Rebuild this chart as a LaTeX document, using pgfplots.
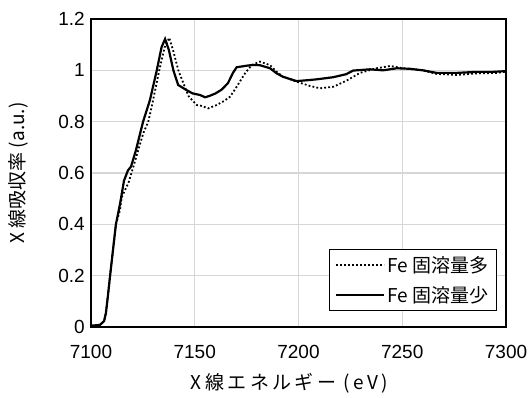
\documentclass[border=0pt]{standalone}
\usepackage{fontspec}
\setmainfont{Liberation Sans}
\newfontfamily\jp{Noto Sans CJK JP}
\newfontfamily\jpsp[LetterSpace=18]{Noto Sans CJK JP}
\usepackage{pgfplots}
\pgfplotsset{compat=1.18}
\begin{document}
\begin{tikzpicture}
\path[use as bounding box] (0,0) rectangle (529bp,398bp);
\begin{axis}[
  at={(91bp,71bp)}, anchor=south west,
  scale only axis, width=415bp, height=308bp,
  xmin=7100, xmax=7300, ymin=0, ymax=1.2,
  xtick={7100,7150,7200,7250,7300},
  xticklabels={7100,7150,7200,7250,7300},
  ytick={0,0.2,0.4,0.6,0.8,1,1.2},
  yticklabels={0,0.2,0.4,0.6,0.8,1,1.2},
  scaled ticks=false,
  major tick length=0pt,
  grid=major,
  major grid style={draw=black!16, line width=1.2bp},
  axis line style={line width=1.5bp, black},
  tick label style={font=\fontsize{19bp}{22bp}\selectfont, inner sep=0pt},
  xticklabel style={anchor=north, yshift=-18bp},
  yticklabel style={anchor=east, xshift=-6bp},
  legend style={at={(rel axis cs:0.978,0.253)}, anchor=north east,
    draw=black, line width=1bp, inner xsep=6bp, inner ysep=5bp,
    row sep=8bp,
    font=\fontsize{19bp}{22bp}\selectfont\jp},
  legend cell align=left,
  legend image code/.code={\draw[#1] (0bp,0bp) -- (48bp,0bp);},
]
\addplot[black, line width=1.8bp, dash pattern=on 1.8bp off 2.2bp] coordinates {
(7100,0.005) (7104.3,0.008) (7106.3,0.023) (7107.2,0.055) (7108.2,0.125)
(7109.2,0.2) (7110.6,0.30) (7112.0,0.40) (7114.0,0.456) (7114.8,0.505)
(7117.2,0.547) (7118.0,0.56) (7120.4,0.624) (7122.8,0.69) (7125.2,0.755)
(7127.6,0.80) (7129.3,0.86) (7132.9,1.0) (7135.5,1.09) (7137.7,1.127)
(7139.5,1.08) (7142.1,1.0) (7144.5,0.95) (7147,0.90) (7150.9,0.865)
(7153,0.862) (7156.5,0.852) (7160.6,0.865) (7164,0.88) (7167.0,0.897)
(7170.2,0.936) (7174.2,0.988) (7177.4,1.02) (7181.4,1.034) (7186.3,1.02)
(7189.5,0.994) (7192.5,0.975) (7199.1,0.956) (7205.5,0.939) (7210.4,0.93)
(7216.8,0.936) (7223.2,0.96) (7229.6,0.99) (7237.7,1.008) (7244.1,1.017)
(7250.5,1.008) (7260,1.0) (7266.6,0.986) (7276.2,0.982) (7285.9,0.988)
(7295.5,0.99) (7300,0.995)
};
\addlegendentry{Fe 固溶量多}
\addplot[black, line width=2.2bp] coordinates {
(7100,0.005) (7104.3,0.008) (7106.3,0.023) (7107.2,0.055) (7108.2,0.125)
(7109.2,0.2) (7110.6,0.30) (7112.0,0.40) (7114.0,0.48) (7115.9,0.57)
(7117.8,0.61) (7119.3,0.625) (7121.7,0.69) (7125.1,0.80) (7128.4,0.884)
(7131.7,1.0) (7134,1.09) (7135.7,1.122) (7137.5,1.08) (7139.7,1.0)
(7142,0.943) (7146,0.923) (7149,0.91) (7152.5,0.904) (7155,0.895)
(7157,0.90) (7160,0.91) (7163,0.925) (7166,0.95) (7168.4,0.99)
(7170.2,1.012) (7175,1.018) (7178,1.021) (7181.4,1.02) (7186.3,1.008)
(7189.5,0.988) (7192.5,0.975) (7199.1,0.958) (7205,0.962) (7208.8,0.965)
(7216.6,0.973) (7223,0.985) (7226.3,0.999) (7234.5,1.004) (7240.7,1.0)
(7247.3,1.008) (7253.7,1.006) (7260,1.0) (7266.6,0.99) (7276.2,0.99)
(7285.9,0.994) (7293.7,0.994) (7300,0.997)
};
\addlegendentry{Fe 固溶量少}
\end{axis}
\node[font=\fontsize{19bp}{22bp}\selectfont\jpsp] at (289.5bp,15bp) {X線エネルギー (eV)};
\node[font=\fontsize{19bp}{22bp}\selectfont\jp, rotate=90] at (18bp,225bp) {X 線吸収率 (a.u.)};
\end{tikzpicture}
\end{document}
